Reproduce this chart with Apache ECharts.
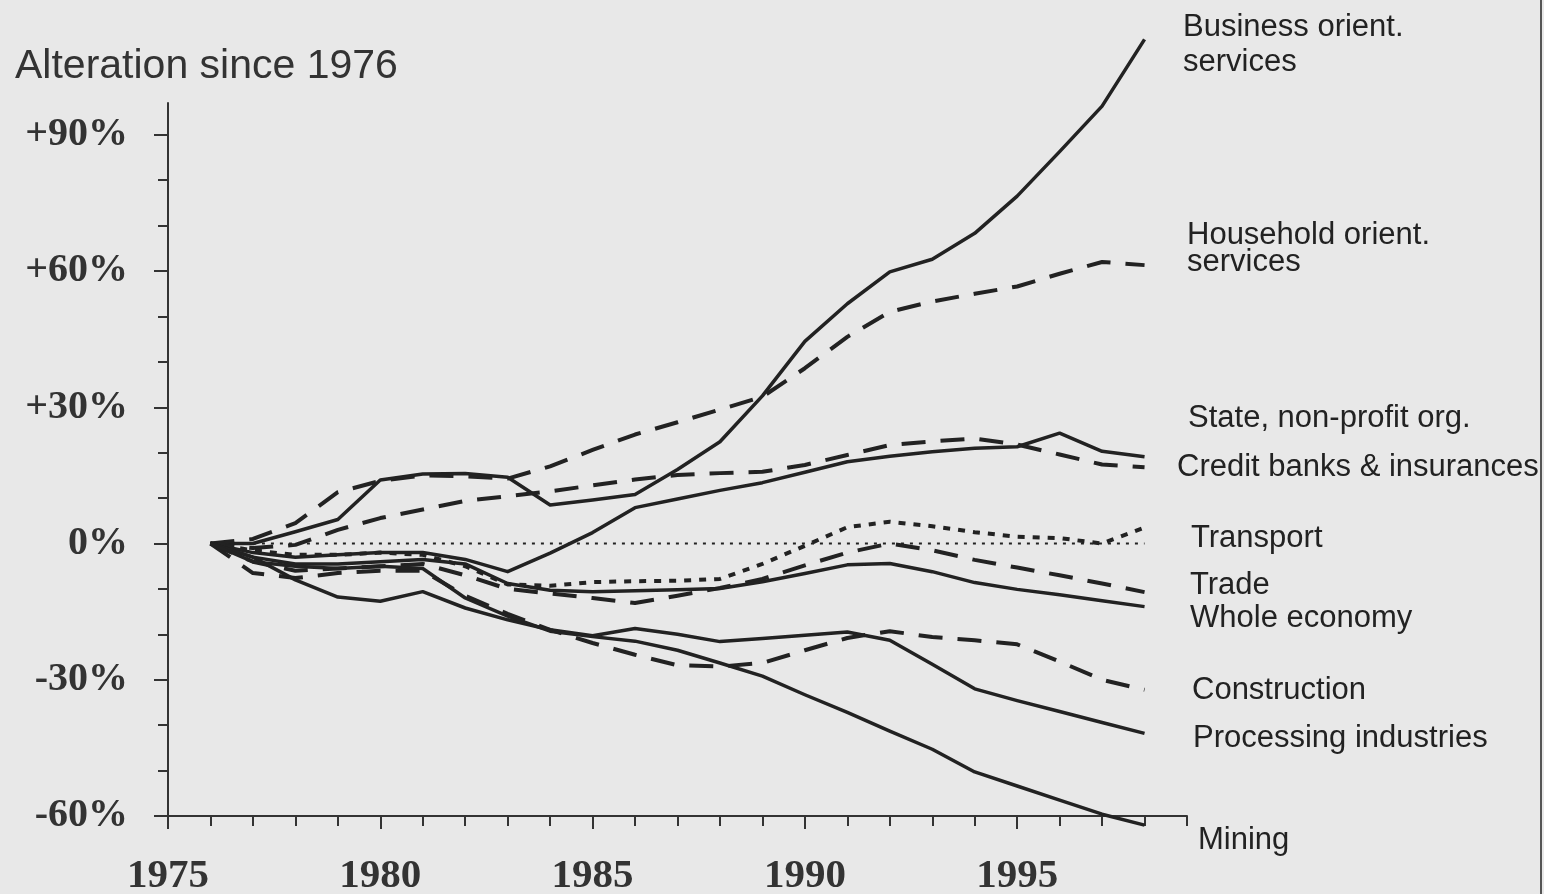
<!DOCTYPE html>
<html>
<head>
<meta charset="utf-8">
<script src="https://cdn.jsdelivr.net/npm/echarts@6/dist/echarts.min.js"></script>
<style>
  html, body { margin: 0; padding: 0; background: #e8e8e8; }
  #chart { width: 1544px; height: 894px; }
</style>
</head>
<body>
<div id="chart"></div>
<script>
// years on the x axis (each series starts at 0 in 1976)
const years = [1976, 1977, 1978, 1979, 1980, 1981, 1982, 1983, 1984, 1985, 1986, 1987,
               1988, 1989, 1990, 1991, 1992, 1993, 1994, 1995, 1996, 1997, 1998];

// alteration since 1976, in %
const business     = [0, 0, 2.6, 5.3, 14, 15.3, 15.4, 14.6, 8.5, 9.6, 10.8, 16.3, 22.4, 32.5, 44.5, 52.8, 59.8, 62.6, 68.3, 76.5, 86.3, 96.3, 111];
const household    = [0, 1, 4.5, 11.3, 13.8, 15, 14.8, 14.3, 17, 20.6, 24, 26.7, 29.5, 32.3, 38.6, 45.5, 51, 53.3, 55, 56.6, 59.4, 62, 61.3];
const stateOrg     = [0, -2, -3, -2.5, -2, -2, -3.5, -6.2, -2.1, 2.4, 7.9, 9.8, 11.7, 13.4, 15.7, 18, 19.2, 20.2, 21, 21.3, 24.3, 20.3, 19.1];
const creditBanks  = [0, -1, -0.3, 3, 5.6, 7.5, 9.4, 10.4, 11.5, 12.8, 14.1, 15.1, 15.5, 15.8, 17.3, 19.5, 21.7, 22.5, 23.1, 21.8, 19.6, 17.4, 16.8];
const transport    = [0, -1.5, -2.5, -2.5, -2, -2.5, -5, -9, -9.3, -8.5, -8.3, -8.2, -7.8, -4.5, -0.5, 3.6, 4.8, 3.8, 2.5, 1.5, 1.2, 0, 3.5];
const trade        = [0, -4, -6, -5.5, -5, -4.5, -7, -10, -11, -12, -13.1, -11.5, -9.8, -7.8, -4.8, -2, 0, -1.5, -3.6, -5.3, -7, -8.8, -10.7];
const wholeEconomy = [0, -3, -4.5, -4.5, -4, -3.5, -4.5, -8.8, -10.3, -10.6, -10.4, -10.2, -9.9, -8.4, -6.6, -4.7, -4.4, -6.2, -8.6, -10.1, -11.3, -12.6, -13.9];
const construction = [0, -6.5, -7.6, -6.5, -6, -6, -11.5, -15.5, -19, -21.9, -24.5, -26.8, -27.1, -26.3, -23.5, -20.8, -19.3, -20.6, -21.3, -22.2, -26, -30, -32.2];
const processing   = [0, -3, -8, -11.8, -12.7, -10.6, -14.2, -16.8, -19, -20.3, -18.7, -20, -21.6, -20.9, -20.2, -19.5, -21.3, -26.6, -32, -34.6, -37, -39.4, -41.8];
const mining       = [0, -4, -5, -5.5, -5, -5.5, -12, -16, -19.3, -20.5, -21.5, -23.5, -26.3, -29.2, -33.3, -37.2, -41.3, -45.3, -50.3, -53.4, -56.5, -59.6, -62];

// dotted zero reference line
const zeroYears = [1977, 1998];
const zeroValues = [0, 0];

// tick values
const xAllTicks = [];
for (let y = 1975; y <= 1999; y++) xAllTicks.push(y);
const xLabelTicks = [1975, 1980, 1985, 1990, 1995];
const yMinorTicks = [-60, -50, -40, -30, -20, -10, 0, 10, 20, 30, 40, 50, 60, 70, 80, 90];
const yLabelTicks = [-60, -30, 0, 30, 60, 90];

const ink = '#222';
const solid = { type: 'solid', width: 3.5 };
const dashed = { type: [24, 15], width: 4 };
const dotted = { type: [7, 8], width: 4 };

const lines = [
    { name: 'Business orient. services', data: business, style: solid },
    { name: 'Household orient. services', data: household, style: dashed },
    { name: 'State, non-profit org.', data: stateOrg, style: solid },
    { name: 'Credit banks & insurances', data: creditBanks, style: dashed },
    { name: 'Transport', data: transport, style: dotted },
    { name: 'Trade', data: trade, style: dashed },
    { name: 'Whole economy', data: wholeEconomy, style: solid },
    { name: 'Construction', data: construction, style: dashed },
    { name: 'Processing industries', data: processing, style: solid },
    { name: 'Mining', data: mining, style: solid }
];

const series = lines.map(l => ({
    name: l.name,
    type: 'line',
    data: years.map((yr, i) => [yr, l.data[i]]),
    showSymbol: false,
    clip: false,
    lineStyle: Object.assign({ color: ink, cap: 'butt', join: 'round' }, l.style),
    emphasis: { disabled: true },
    z: 3
}));
series.push({
    name: 'zero',
    type: 'line',
    data: zeroYears.map((yr, i) => [yr, zeroValues[i]]),
    showSymbol: false,
    lineStyle: { color: ink, width: 2, type: [3, 6] },
    emphasis: { disabled: true },
    z: 2
});

// right-hand annotations: [text, left x, baseline y]
const notes = [
    ['Business orient.', 1183, 37],
    ['services', 1183, 72],
    ['Household orient.', 1187, 245],
    ['services', 1187, 272],
    ['State, non-profit org.', 1188, 428],
    ['Credit banks & insurances', 1177, 477],
    ['Transport', 1191, 548],
    ['Trade', 1190, 595],
    ['Whole economy', 1190, 628],
    ['Construction', 1192, 700],
    ['Processing industries', 1193, 748],
    ['Mining', 1198, 850]
];

const graphics = notes.map(n => ({
    type: 'text',
    x: n[1],
    y: n[2] - 9.5,
    silent: true,
    style: {
        text: n[0],
        font: '31px "Liberation Sans", Arial, sans-serif',
        fill: '#222',
        verticalAlign: 'middle'
    }
}));
graphics.push({
    type: 'text',
    x: 15,
    y: 67,
    silent: true,
    style: {
        text: 'Alteration since 1976',
        font: '41px "Liberation Sans", Arial, sans-serif',
        fill: '#333',
        verticalAlign: 'middle'
    }
});
graphics.push({
    type: 'line',
    silent: true,
    shape: { x1: 1541, y1: 0, x2: 1541, y2: 894 },
    style: { stroke: '#555', lineWidth: 2 }
});

const axisInk = { color: '#333', width: 2 };

var myChart = echarts.init(document.getElementById('chart'));
myChart.setOption({
    animation: false,
    backgroundColor: '#e8e8e8',
    grid: { left: 168, right: 357, top: 103, bottom: 78, outerBoundsMode: 'none' },
    xAxis: [
        {
            type: 'value', min: 1975, max: 1999, interval: 1,
            axisLine: { show: true, onZero: false, lineStyle: axisInk },
            axisTick: { show: true, length: 10, lineStyle: axisInk, customValues: xAllTicks },
            axisLabel: { show: false },
            splitLine: { show: false }
        },
        {
            type: 'value', min: 1975, max: 1999, interval: 1, position: 'bottom',
            axisLine: { show: false, onZero: false },
            axisTick: { show: true, length: 13, lineStyle: axisInk, customValues: xLabelTicks },
            axisLabel: {
                show: true, customValues: xLabelTicks, margin: 40,
                fontFamily: '"Liberation Serif", "Times New Roman", serif',
                fontWeight: 'bold', fontSize: 41, color: '#333',
                formatter: v => String(v)
            },
            splitLine: { show: false }
        }
    ],
    yAxis: [
        {
            type: 'value', min: -60, max: 97,
            axisLine: { show: true, onZero: false, lineStyle: axisInk },
            axisTick: { show: true, length: 10, lineStyle: axisInk, customValues: yMinorTicks },
            axisLabel: { show: false },
            splitLine: { show: false }
        },
        {
            type: 'value', min: -60, max: 97, position: 'left',
            axisLine: { show: false, onZero: false },
            axisTick: { show: true, length: 14, lineStyle: axisInk, customValues: yLabelTicks },
            axisLabel: {
                show: true, customValues: yLabelTicks, margin: 40,
                fontFamily: '"Liberation Serif", "Times New Roman", serif',
                fontWeight: 'bold', fontSize: 40, color: '#333',
                formatter: v => (v > 0 ? '+' : '') + v + '%'
            },
            splitLine: { show: false }
        }
    ],
    series: series,
    graphic: graphics
});
</script>
</body>
</html>
